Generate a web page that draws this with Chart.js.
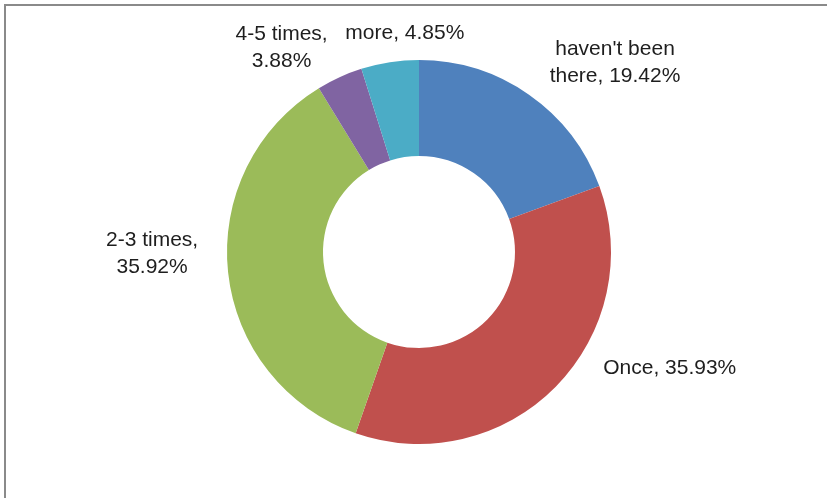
<!DOCTYPE html>
<html>
<head>
<meta charset="utf-8">
<script src="https://cdn.jsdelivr.net/npm/chart.js@4/dist/chart.umd.min.js"></script>
<style>
    html, body { margin: 0; padding: 0; background: #fff; }
    #wrap { position: relative; width: 827px; height: 498px; overflow: hidden; }
    #frame {
        position: absolute; left: 4px; top: 4px; right: -10px; bottom: -10px;
        border-left: 2px solid #8a8a8a; border-top: 2px solid #8a8a8a;
    }
    canvas { position: absolute; left: 0; top: 0; }
</style>
</head>
<body>
<div id="wrap">
    <div id="frame"></div>
    <canvas id="visitChart" width="827" height="498"></canvas>
</div>
<script>
// data
var categories = ["haven't been there", 'Once', '2-3 times', '4-5 times', 'more'];
var shares = [19.42, 35.93, 35.92, 3.88, 4.85];
var sliceColors = ['#4F81BD', '#C0504D', '#9BBB59', '#8064A2', '#4BACC6'];

// label text split into lines, Excel style
var labelLines = [
    ["haven't been", 'there, 19.42%'],
    ['Once, 35.93%'],
    ['2-3 times,', '35.92%'],
    ['4-5 times,', '3.88%'],
    ['more, 4.85%']
];
// nudges from the outer edge of each slice (pixels)
var labelNudge = [[86, -32], [114, -19], [-76, -19], [-58, -30], [15, -29]];

/**
 * Draws data labels outside the ring
 */
var outsideLabels = {
    id: 'outsideLabels',
    afterDatasetsDraw: function (chart) {
        var ctx = chart.ctx;
        var meta = chart.getDatasetMeta(0);
        ctx.save();
        ctx.font = '21px "Liberation Sans", Arial, sans-serif';
        ctx.fillStyle = '#1e1e1e';
        ctx.textAlign = 'center';
        ctx.textBaseline = 'middle';
        meta.data.forEach(function (arc, i) {
            var p = arc.getProps(['x', 'y', 'startAngle', 'endAngle', 'outerRadius'], true);
            var mid = (p.startAngle + p.endAngle) / 2;
            var ax = p.x + Math.cos(mid) * p.outerRadius + labelNudge[i][0];
            var ay = p.y + Math.sin(mid) * p.outerRadius + labelNudge[i][1];
            var lines = labelLines[i];
            var lineH = 27;
            var y0 = ay - (lines.length - 1) * lineH / 2;
            lines.forEach(function (t, k) {
                ctx.fillText(t, ax, y0 + k * lineH);
            });
        });
        ctx.restore();
    }
};

new Chart(document.getElementById('visitChart').getContext('2d'), {
    type: 'doughnut',
    data: {
        labels: categories,
        datasets: [{
            data: shares,
            backgroundColor: sliceColors,
            borderWidth: 0
        }]
    },
    options: {
        responsive: false,
        animation: false,
        devicePixelRatio: 1,
        cutout: '50%',
        layout: {
            padding: { left: 227, right: 216, top: 60, bottom: 54 }
        },
        plugins: {
            legend: { display: false },
            tooltip: { enabled: false }
        }
    },
    plugins: [outsideLabels]
});
</script>
</body>
</html>
